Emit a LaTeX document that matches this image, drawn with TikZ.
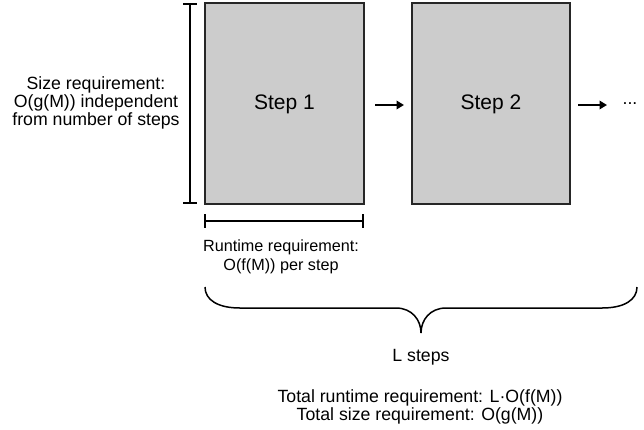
\documentclass[tikz,border=0pt]{standalone}
\usepackage{fontspec}
\setmainfont{Liberation Sans}
\usetikzlibrary{arrows.meta}
\definecolor{boxgray}{HTML}{CCCCCC}
\begin{document}
\begin{tikzpicture}[x=1pt,y=-1pt,
  stepbox/.style={draw=black!85,line width=1.3pt,fill=boxgray},
  bar/.style={line width=2pt,line cap=butt},
  flow/.style={line width=2pt,-{Triangle[length=7.5pt,width=8.5pt]}},
  lbl/.style={font=\fontsize{17.7}{18}\selectfont,align=center,inner sep=0pt},
  smalllbl/.style={font=\fontsize{16.2}{19}\selectfont,align=center,inner sep=0pt},
  steplbl/.style={font=\fontsize{21}{24}\selectfont,inner sep=0pt}]
\useasboundingbox (0,0) rectangle (644,429);
% boxes
\draw[stepbox] (205,3) rectangle (364,204);
\draw[stepbox] (412,3) rectangle (570,204);
\node[steplbl] (s1) at (284.5,104) {Step 1};
\node[steplbl] (s2) at (491,104) {Step 2};
\coordinate (a1s) at (375,105);
\coordinate (a1e) at (404,105);
\coordinate (a2s) at (578,105);
\coordinate (a2e) at (607,105);
\draw[flow] (a1s) -- (a1e);
\draw[flow] (a2s) -- (a2e);
\node[lbl] (dots) at (630,104) {...};
% vertical size bar
\coordinate (vt) at (190,4);
\coordinate (vb) at (190,203);
\draw[bar] (vt) -- (vb);
\draw[bar] (183,4) -- (197,4);
\draw[bar] (183,203) -- (197,203);
% horizontal runtime bar
\coordinate (hl) at (205,221);
\coordinate (hr) at (363,221);
\draw[bar] (hl) -- (hr);
\draw[bar] (205,214) -- (205,228);
\draw[bar] (363,214) -- (363,228);
% labels
\node[lbl] (size) at (96,103) {Size requirement:\\O(g(M)) independent\\from number of steps};
\node[smalllbl] (rt) at (281,257) {Runtime requirement:\\O(f(M)) per step};
% brace
\draw[line width=1.5pt] (205,287) .. controls (205,300) and (218,308) .. (240,308)
  -- (396,308) .. controls (412,308) and (421,320) .. (421,333)
  .. controls (421,320) and (430,308) .. (446,308)
  -- (602,308) .. controls (624,308) and (637,300) .. (637,287);
\node[lbl] (L) at (421,357) {L steps};
\node[lbl] (tot) at (420,407) {Total runtime requirement: L·O(f(M))\\Total size requirement: O(g(M))};
\end{tikzpicture}
\end{document}
